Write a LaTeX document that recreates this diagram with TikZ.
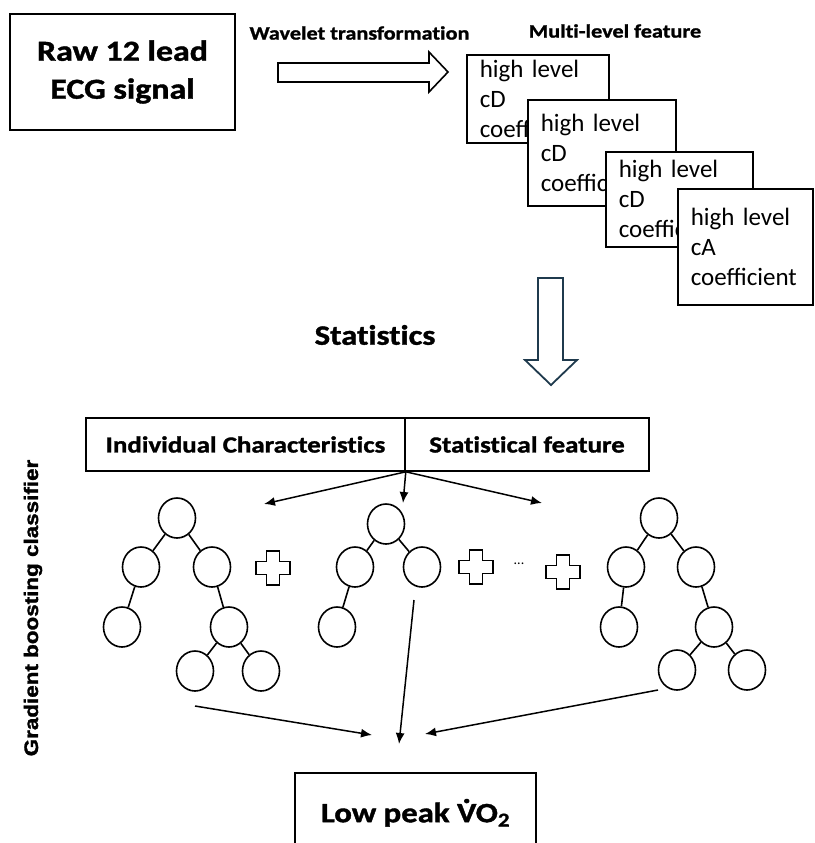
\documentclass[tikz,border=0pt]{standalone}
\usepackage{fontspec}
\setmainfont{Carlito}
\newfontfamily\headfont{Carlito}[FakeStretch=1.17,Ligatures=NoCommon,BoldFeatures={FakeBold=1.3}]
\newfontfamily\sidefont{Liberation Sans}[FakeStretch=1.15,BoldFeatures={FakeBold=1.5}]
\usetikzlibrary{arrows.meta,shapes.geometric}
\definecolor{navyline}{HTML}{1F3A4D}
\newcommand\vdotV{\leavevmode\setbox0\hbox{V}\rlap{\hbox to\wd0{\hss\raisebox{0.69em}{.}\hss}}V}
\tikzset{
  box/.style={draw,line width=1.6pt,inner sep=0pt},
  featbox/.style 2 args={draw,fill=white,line width=1.6pt,align=left,
    inner xsep=13pt,inner ysep=0pt,text width=#1-26pt,minimum height=#2,
    anchor=north west,font=\fontsize{25}{30}\selectfont},
  leaf/.style={ellipse,draw,line width=1.6pt,minimum width=37pt,minimum height=40pt,inner sep=0pt},
  edge/.style={line width=1.6pt},
  arr/.style={line width=1.5pt,-{Latex[length=11pt,width=9pt]}},
  plus/.pic={\draw[line width=1.6pt] (-6.5,-17) -- (6.5,-17) -- (6.5,-6.5) -- (17,-6.5)
    -- (17,6.5) -- (6.5,6.5) -- (6.5,17) -- (-6.5,17) -- (-6.5,6.5) -- (-17,6.5)
    -- (-17,-6.5) -- (-6.5,-6.5) -- cycle;}
}
\begin{document}
\begin{tikzpicture}[x=1pt,y=-1pt]
\useasboundingbox (0,0) rectangle (814,843);

% input and wavelet step
\node[box,minimum width=225pt,minimum height=116pt,align=center,
  font=\headfont\bfseries\fontsize{29}{38}\selectfont] (raw) at (122.5,72) {Raw 12 lead\\ECG signal};
\node[inner sep=0pt,font=\headfont\bfseries\fontsize{19}{22}\selectfont] (wavelet) at (359.5,33) {Wavelet transformation};
\draw[line width=1.6pt] (278,63) -- (429,63) -- (429,52) -- (448,72) -- (429,92) -- (429,82) -- (278,82) -- cycle;

% multi-level features
\node[inner sep=0pt,font=\headfont\bfseries\fontsize{19}{22}\selectfont] (multi) at (615,31) {Multi-level feature};
\node[featbox={142pt}{88pt}] (f1) at (466,54) {high level\\cD\\coefficient};
\node[featbox={148pt}{106pt}] (f2) at (527,99) {high level\\cD\\coefficient};
\node[featbox={147pt}{95pt}] (f3) at (605,151) {high level\\cD\\coefficient};
\node[featbox={135pt}{116pt}] (f4) at (677,188) {high level\\cA\\coefficient};

% statistics step
\node[inner sep=0pt,font=\headfont\bfseries\fontsize{28}{32}\selectfont] (stats) at (375,335) {Statistics};
\draw[navyline,line width=1.8pt] (538,278) -- (563,278) -- (563,360) -- (577,360) -- (551,385)
  -- (525,360) -- (538,360) -- cycle;

% classifier input
\node[box,minimum width=319pt,minimum height=53pt,font=\headfont\bfseries\fontsize{23}{26}\selectfont] (ic) at (245.5,444.5) {Individual Characteristics};
\node[box,minimum width=244pt,minimum height=53pt,font=\headfont\bfseries\fontsize{23}{26}\selectfont] (sf) at (527,444.5) {Statistical feature};
\node[rotate=90,inner sep=0pt,font=\sidefont\bfseries\fontsize{19.5}{22}\selectfont] (gbc) at (33,608) {Gradient boosting classifier};

\coordinate (in1) at (264,504);
\coordinate (in2) at (403,503);
\coordinate (in3) at (542,503);
\draw[arr] (ic.south east) -- (in1);
\draw[arr] (ic.south east) -- (in2);
\draw[arr] (ic.south east) -- (in3);

% tree 1
\node[leaf] (a1) at (177,518) {};
\node[leaf] (a2) at (141,567) {};
\node[leaf] (a3) at (212,567) {};
\node[leaf] (a4) at (122,627) {};
\node[leaf] (a5) at (229,627) {};
\node[leaf] (a6) at (195,671) {};
\node[leaf] (a7) at (261,671) {};
\draw[edge] (a1) -- (a2) (a1) -- (a3) (a2) -- (a4) (a3) -- (a5) (a5) -- (a6) (a5) -- (a7);

% tree 2
\node[leaf] (b1) at (386,524) {};
\node[leaf] (b2) at (355,567) {};
\node[leaf] (b3) at (422,567) {};
\node[leaf] (b4) at (337,627) {};
\draw[edge] (b1) -- (b2) (b1) -- (b3) (b2) -- (b4);

% tree 3
\node[leaf] (c1) at (659,518) {};
\node[leaf] (c2) at (626,567) {};
\node[leaf] (c3) at (696,567) {};
\node[leaf] (c4) at (619,627) {};
\node[leaf] (c5) at (714,627) {};
\node[leaf] (c6) at (677,670) {};
\node[leaf] (c7) at (747,670) {};
\draw[edge] (c1) -- (c2) (c1) -- (c3) (c2) -- (c4) (c3) -- (c5) (c5) -- (c6) (c5) -- (c7);

% sums
\pic at (273,568) {plus};
\pic at (476,567) {plus};
\pic at (563,572) {plus};
\node[inner sep=0pt,font=\fontsize{14}{16}\selectfont] (dots) at (519,564) {...};

% output
\coordinate (s1) at (195,706);
\coordinate (s2) at (414,600);
\coordinate (s3) at (658,690);
\coordinate (e1) at (372,735);
\coordinate (e2) at (399,744);
\coordinate (e3) at (425,734);
\draw[arr] (s1) -- (e1);
\draw[arr] (s2) -- (e2);
\draw[arr] (s3) -- (e3);
\node[box,minimum width=241pt,minimum height=80pt,anchor=north,
  font=\headfont\bfseries\fontsize{28}{32}\selectfont] (out) at (415.5,772)
  {Low peak \vdotV O\textsubscript{2}};
\end{tikzpicture}
\end{document}
